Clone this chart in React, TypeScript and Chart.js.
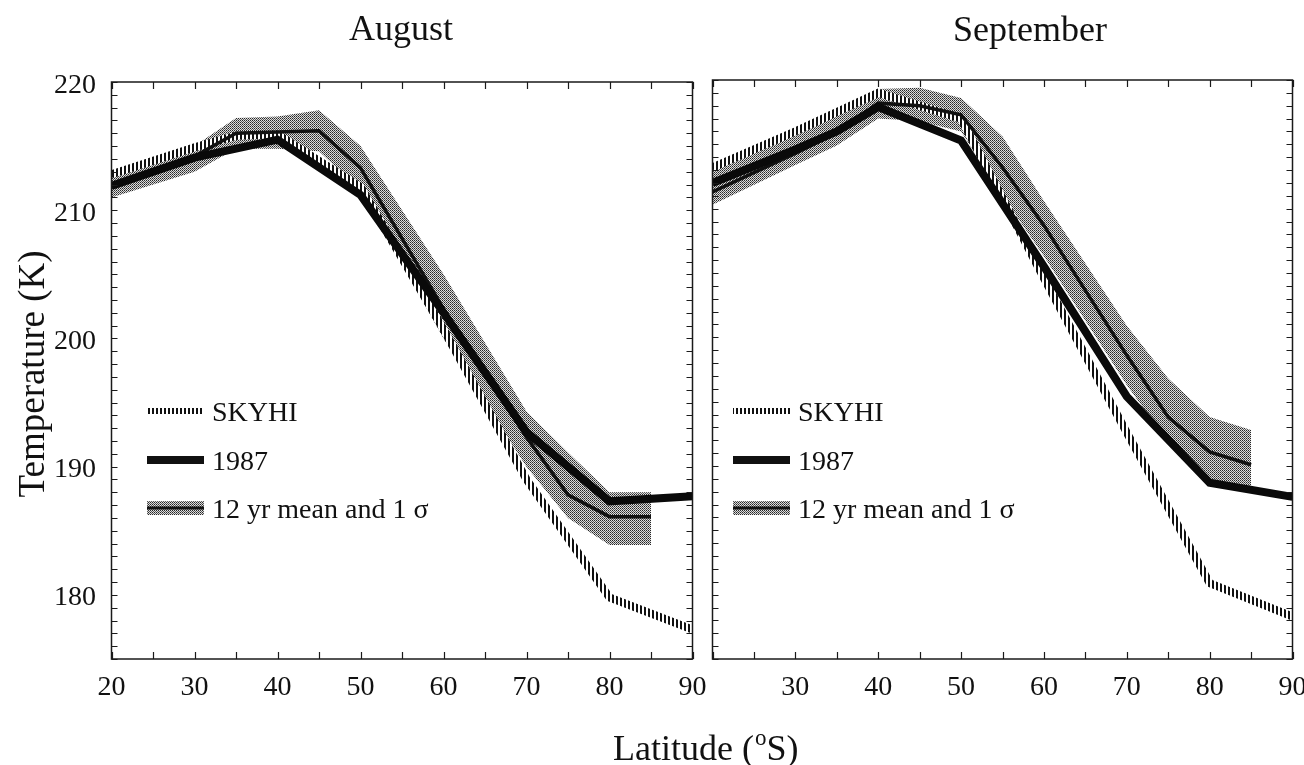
import React, { useEffect, useRef } from 'react';
import { Chart, registerables } from 'chart.js';
Chart.register(...registerables);

const FONT = '"Liberation Serif", "Times New Roman", Times, serif';

// ---------- August ----------
const augSkyhiLat = [20, 30, 35, 40, 50, 60, 70, 80, 90];
const augSkyhi = [212.8, 214.9, 215.8, 215.9, 211.8, 200.7, 189.0, 179.8, 177.3];
const aug1987Lat = [20, 30, 40, 50, 60, 70, 80, 90];
const aug1987 = [211.9, 214.1, 215.5, 211.2, 202.0, 192.7, 187.3, 187.7];
const augMeanLat = [20, 30, 35, 40, 45, 50, 60, 70, 75, 80, 85];
const augMean = [212.0, 214.2, 216.0, 216.1, 216.2, 213.3, 202.3, 192.3, 187.8, 186.1, 186.1];
const augUpper = [213.0, 215.0, 217.2, 217.3, 217.8, 215.0, 205.0, 194.3, 191.1, 188.0, 188.0];
const augLower = [211.0, 213.0, 214.8, 214.8, 214.6, 211.6, 200.0, 190.0, 186.0, 183.9, 183.9];

// ---------- September ----------
const sepSkyhiLat = [20, 30, 40, 50, 60, 70, 80, 90];
const sepSkyhi = [213.2, 216.0, 219.0, 217.0, 204.6, 192.6, 180.9, 178.3];
const sep1987Lat = [20, 30, 35, 40, 50, 60, 70, 80, 90];
const sep1987 = [212.0, 214.6, 216.0, 217.9, 215.3, 205.5, 195.4, 188.7, 187.6];
const sepMeanLat = [20, 30, 35, 40, 45, 50, 55, 60, 70, 75, 80, 85];
const sepMean = [211.3, 214.3, 215.9, 218.2, 218.0, 217.3, 213.2, 208.7, 198.6, 193.8, 191.1, 190.1];
const sepUpper = [213.2, 216.2, 217.7, 219.3, 219.4, 218.6, 215.6, 210.6, 200.9, 196.8, 193.8, 192.8];
const sepLower = [210.3, 213.4, 214.9, 217.0, 216.8, 216.0, 211.0, 206.3, 196.3, 191.8, 188.5, 188.3];

// ---------- ticks & labels ----------
const xTicksLeft = [20, 30, 40, 50, 60, 70, 80, 90];
const xTicksRight = [30, 40, 50, 60, 70, 80, 90];
const yTickLabels = [180, 190, 200, 210, 220];
const legendLabels = ['SKYHI', '1987', '12 yr mean and 1 \u03c3'];

const W = 1304;
const H = 765;

function pts(lat: number[], val: number[]) {
  return lat.map((x, i) => ({ x, y: val[i] }));
}

function makeStripe(ctx: CanvasRenderingContext2D) {
  const c = document.createElement('canvas');
  c.width = 4; c.height = 1;
  const g = c.getContext('2d')!;
  g.fillStyle = '#ffffff'; g.fillRect(0, 0, 4, 1);
  g.fillStyle = '#111111'; g.fillRect(0, 0, 2, 1);
  return ctx.createPattern(c, 'repeat')!;
}
function makeDots(ctx: CanvasRenderingContext2D) {
  const c = document.createElement('canvas');
  c.width = 2; c.height = 2;
  const g = c.getContext('2d')!;
  g.fillStyle = '#dcdcdc'; g.fillRect(0, 0, 2, 2);
  g.fillStyle = '#262626'; g.fillRect(0, 0, 1, 1);
  g.fillStyle = '#5a5a5a'; g.fillRect(1, 1, 1, 1);
  return ctx.createPattern(c, 'repeat')!;
}

type PanelSpec = {
  title: string; titleX: number; titleY: number;
  left: number; right: number; top: number; bottom: number;
  xLabels: number[]; showY: boolean; legendX: number;
  skyhiLat: number[]; skyhi: number[];
  yrLat: number[]; yr: number[];
  meanLat: number[]; mean: number[]; upper: number[]; lower: number[];
  extra?: boolean;
};

const panels: PanelSpec[] = [
  {
    title: 'August', titleX: 401, titleY: 40,
    left: 111.5, right: 692.5, top: 82, bottom: 659,
    xLabels: xTicksLeft, showY: true, legendX: 147,
    skyhiLat: augSkyhiLat, skyhi: augSkyhi, yrLat: aug1987Lat, yr: aug1987,
    meanLat: augMeanLat, mean: augMean, upper: augUpper, lower: augLower, extra: true,
  },
  {
    title: 'September', titleX: 1030, titleY: 41,
    left: 712.5, right: 1292.5, top: 80, bottom: 659,
    xLabels: xTicksRight, showY: false, legendX: 733,
    skyhiLat: sepSkyhiLat, skyhi: sepSkyhi, yrLat: sep1987Lat, yr: sep1987,
    meanLat: sepMeanLat, mean: sepMean, upper: sepUpper, lower: sepLower,
  },
];

function Panel({ spec }: { spec: PanelSpec }) {
  const ref = useRef<HTMLCanvasElement>(null);
  useEffect(() => {
    const canvas = ref.current!;
    const ctx = canvas.getContext('2d')!;
    const stripe = makeStripe(ctx);
    const dots = makeDots(ctx);

    const deco = {
      id: 'deco' + spec.title,
      afterDatasetsDraw(chart: any) {
        const c: CanvasRenderingContext2D = chart.ctx;
        const a = chart.chartArea;
        const xs = chart.scales.x;
        const ys = chart.scales.y;
        c.save();
        // frame
        c.strokeStyle = '#1a1a1a';
        c.lineWidth = 1.5;
        c.strokeRect(a.left, a.top, a.right - a.left, a.bottom - a.top);
        // ticks
        c.lineWidth = 1.2;
        c.beginPath();
        for (let v = 20; v <= 90; v += 5) {
          const px = Math.round(xs.getPixelForValue(v)) + 0.5;
          c.moveTo(px, a.bottom); c.lineTo(px, a.bottom - 7);
          c.moveTo(px, a.top); c.lineTo(px, a.top + 7);
        }
        for (let v = 175; v <= 220; v += 1) {
          const py = Math.round(ys.getPixelForValue(v)) + 0.5;
          c.moveTo(a.left, py); c.lineTo(a.left + 6, py);
          c.moveTo(a.right, py); c.lineTo(a.right - 6, py);
        }
        c.stroke();

        c.fillStyle = '#111';
        // x tick labels
        c.font = `28px ${FONT}`;
        c.textAlign = 'center';
        c.textBaseline = 'alphabetic';
        spec.xLabels.forEach((v) => {
          c.fillText(String(v), xs.getPixelForValue(v), 695);
        });
        // y tick labels
        if (spec.showY) {
          c.textAlign = 'right';
          yTickLabels.forEach((v) => {
            c.fillText(String(v), 96, ys.getPixelForValue(v) + 10.5);
          });
        }
        // title
        c.font = `36px ${FONT}`;
        c.textAlign = 'center';
        c.fillText(spec.title, spec.titleX, spec.titleY);

        if (spec.extra) {
          // y axis title
          c.save();
          c.translate(44, 374);
          c.rotate(-Math.PI / 2);
          c.font = `37px ${FONT}`;
          c.textAlign = 'center';
          c.fillText('Temperature (K)', 0, 0);
          c.restore();
          // x axis title
          c.font = `36px ${FONT}`;
          c.textAlign = 'left';
          let x0 = 613;
          const t1 = 'Latitude (';
          c.fillText(t1, x0, 760);
          x0 += c.measureText(t1).width;
          c.font = `23px ${FONT}`;
          c.fillText('o', x0 + 1, 745);
          x0 += c.measureText('o').width + 1;
          c.font = `36px ${FONT}`;
          c.fillText('S)', x0, 760);
        }

        // legend
        const lx1 = spec.legendX;
        const lx2 = lx1 + 57;
        const tx = lx2 + 8;
        const rows = [411, 460, 508];
        c.fillStyle = stripe;
        c.fillRect(lx1, rows[0] - 3, lx2 - lx1, 6);
        c.fillStyle = '#111';
        c.fillRect(lx1, rows[1] - 4, lx2 - lx1, 8);
        c.fillStyle = dots;
        c.fillRect(lx1, rows[2] - 7, lx2 - lx1, 14);
        c.fillStyle = '#111';
        c.fillRect(lx1, rows[2] - 1.5, lx2 - lx1, 3);
        c.font = `28px ${FONT}`;
        c.textAlign = 'left';
        legendLabels.forEach((t, i) => c.fillText(t, tx, rows[i] + 10));
        c.restore();
      },
    };

    const chart = new Chart(ctx, {
      type: 'line',
      data: {
        datasets: [
          {
            label: '1987', data: pts(spec.yrLat, spec.yr), order: 0,
            borderColor: '#0a0a0a', borderWidth: 8, pointRadius: 0, fill: false, clip: 0,
          } as any,
          {
            label: '12 yr mean', data: pts(spec.meanLat, spec.mean), order: 1,
            borderColor: '#111111', borderWidth: 3.5, pointRadius: 0, fill: false, clip: 0,
          },
          {
            label: 'SKYHI', data: pts(spec.skyhiLat, spec.skyhi), order: 2,
            borderColor: stripe, borderWidth: 8, pointRadius: 0, fill: false, clip: 0,
          },
          {
            label: 'upper', data: pts(spec.meanLat, spec.upper), order: 3,
            borderWidth: 0, borderColor: 'rgba(0,0,0,0)', pointRadius: 0,
            backgroundColor: dots, fill: '+1', clip: 0,
          },
          {
            label: 'lower', data: pts(spec.meanLat, spec.lower), order: 4,
            borderWidth: 0, borderColor: 'rgba(0,0,0,0)', pointRadius: 0, fill: false, clip: 0,
          },
        ],
      },
      options: {
        animation: false,
        responsive: false,
        devicePixelRatio: 1,
        events: [],
        layout: {
          padding: { left: spec.left, top: spec.top, right: W - spec.right, bottom: H - spec.bottom },
        },
        scales: {
          x: { type: 'linear', min: 20, max: 90, display: false },
          y: { type: 'linear', min: 175, max: 220, display: false },
        },
        plugins: { legend: { display: false }, tooltip: { enabled: false } },
      },
      plugins: [deco],
    } as any);
    return () => chart.destroy();
  }, []);
  return (
    <canvas
      ref={ref}
      width={W}
      height={H}
      style={{ position: 'absolute', left: 0, top: 0, width: W, height: H }}
    />
  );
}

export default function App() {
  return (
    <div style={{ position: 'fixed', left: 0, top: 0, width: W, height: H, background: '#ffffff', overflow: 'hidden' }}>
      {panels.map((p) => (
        <Panel key={p.title} spec={p} />
      ))}
    </div>
  );
}
